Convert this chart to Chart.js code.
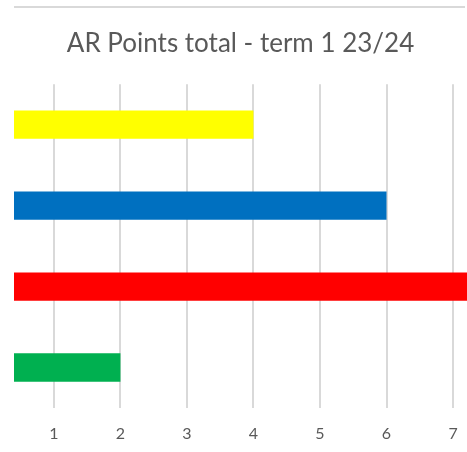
<!DOCTYPE html>
<html>
<head>
<meta charset="utf-8">
<script src="https://cdn.jsdelivr.net/npm/chart.js@4/dist/chart.umd.min.js"></script>
<style>
  html, body { margin: 0; padding: 0; background: #fff; }
  #wrap { width: 467px; height: 452px; }
</style>
</head>
<body>
<div id="wrap"><canvas id="chart"></canvas></div>
<script>
// 数据
const categories = ['Yellow', 'Blue', 'Red', 'Green'];
const points = [4, 6, 8, 2];
const barColors = ['#ffff00', '#0070c0', '#ff0000', '#00b050'];
const tickValues = [1, 2, 3, 4, 5, 6, 7];

// top rule above the title
const topRule = {
  id: 'topRule',
  beforeDraw(chart) {
    const ctx = chart.ctx;
    ctx.save();
    ctx.strokeStyle = '#d9d9d9';
    ctx.lineWidth = 2;
    ctx.beginPath();
    ctx.moveTo(14, 7);
    ctx.lineTo(chart.width - 2, 7);
    ctx.stroke();
    ctx.restore();
  }
};

new Chart(document.getElementById('chart'), {
  type: 'bar',
  data: {
    labels: categories,
    datasets: [{
      data: points,
      backgroundColor: barColors,
      barPercentage: 0.35,
      categoryPercentage: 1
    }]
  },
  plugins: [topRule],
  options: {
    indexAxis: 'y',
    responsive: true,
    maintainAspectRatio: false,
    animation: false,
    layout: { padding: { left: 14, right: 0, top: 0, bottom: 0 } },
    plugins: {
      legend: { display: false },
      tooltip: { enabled: false },
      title: {
        display: true,
        text: 'AR Points total - term 1 23/24',
        color: '#595959',
        font: { family: 'Lato', size: 26, weight: 'normal' },
        padding: { top: 28, bottom: 25 }
      }
    },
    scales: {
      x: {
        min: 0.4,
        max: 7.21,
        afterBuildTicks(axis) {
          axis.ticks = tickValues.map(v => ({ value: v }));
        },
        afterFit(axis) {
          // 固定轴高度，去掉标签的左右留白
          axis.height = 44;
          axis.paddingLeft = 0;
          axis.paddingRight = 0;
        },
        grid: { color: '#d9d9d9', lineWidth: 2, drawTicks: false },
        border: { display: false },
        ticks: {
          color: '#595959',
          font: { family: 'Lato', size: 16 },
          padding: 16
        }
      },
      y: { display: false }
    }
  }
});
</script>
</body>
</html>
